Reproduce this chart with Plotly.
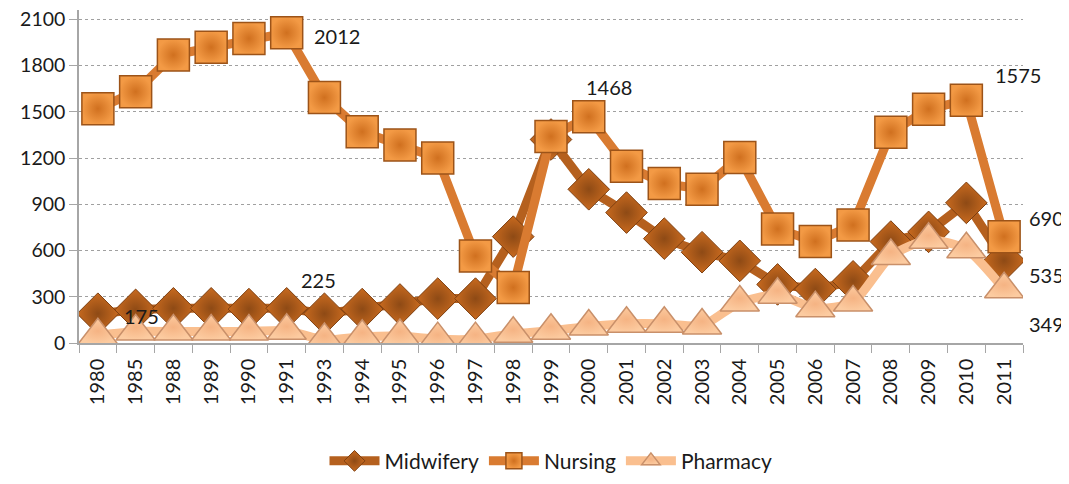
import plotly.graph_objects as go

years = ["1980", "1985", "1988", "1989", "1990", "1991", "1993", "1994", "1995", "1996",
         "1997", "1998", "1999", "2000", "2001", "2002", "2003", "2004", "2005", "2006",
         "2007", "2008", "2009", "2010", "2011"]
midwifery = [190, 215, 225, 225, 220, 225, 190, 220, 250, 288, 288, 690, 1320, 997, 846,
             677, 589, 533, 380, 350, 400, 658, 721, 909, 535]
nursing = [1520, 1630, 1868, 1918, 1975, 2012, 1592, 1370, 1285, 1200, 564, 360, 1340,
           1468, 1147, 1035, 997, 1204, 740, 658, 765, 1367, 1517, 1575, 690]
pharmacy = [50, 75, 75, 75, 75, 80, 20, 40, 45, 25, 25, 60, 80, 107, 125, 125, 113, 263,
            313, 225, 263, 564, 670, 608, 349]

# value labels: (text, category, value, xshift, yshift)
labels = [("2012", "1991", 2012, 50, -3), ("1468", "2000", 1468, 20, 30),
          ("1575", "2010", 1575, 52, 25), ("690", "2011", 690, 42, 19),
          ("535", "2011", 535, 42, -14), ("349", "2011", 349, 42, -35),
          ("225", "1991", 225, 32, 28), ("175", "1985", 175, 6, 0)]

FONT = "Lato"
TXT = "#1a1a1a"
fig = go.Figure()
fig.add_trace(go.Scatter(
    x=years, y=midwifery, name="Midwifery", mode="lines+markers",
    line=dict(color="#B5601E", width=9),
    marker=dict(symbol="diamond", size=32, color="#C86A1F",
                line=dict(color="#7E3F10", width=1),
                gradient=dict(type="radial", color="#8E4A15"))))
fig.add_trace(go.Scatter(
    x=years, y=nursing, name="Nursing", mode="lines+markers",
    line=dict(color="#D97B31", width=9),
    marker=dict(symbol="square", size=32, color="#F39A45",
                line=dict(color="#9C5318", width=1.5),
                gradient=dict(type="radial", color="#D0701F"))))
fig.add_trace(go.Scatter(
    x=years, y=pharmacy, name="Pharmacy", mode="lines+markers",
    line=dict(color="#FABF8F", width=9, shape="spline", smoothing=0.6),
    marker=dict(symbol="triangle-up", size=34, color="#FCCBA0",
                line=dict(color="#C9906A", width=1.5),
                gradient=dict(type="radial", color="#F5B383"))))

for t, cx, v, xs, ys in labels:
    fig.add_annotation(x=years.index(cx), y=v, xref="x", yref="y", text=t,
                       showarrow=False, xshift=xs, yshift=ys,
                       font=dict(family=FONT, size=20, color=TXT))

# page body has an 8px default margin; size/margins compensate for it
fig.update_layout(
    width=1061, height=476,
    margin=dict(l=71, r=46, t=2, b=129),
    paper_bgcolor="white", plot_bgcolor="white",
    font=dict(family=FONT, size=20, color=TXT),
    showlegend=True,
    legend=dict(orientation="h", x=0.5, xanchor="center", y=-0.355, yanchor="middle",
                font=dict(family=FONT, size=21, color=TXT),
                itemwidth=50, tracegroupgap=0),
    xaxis=dict(type="category", showgrid=False, showline=True, linecolor="#A6A6A6",
               linewidth=1.5, ticks="outside", tickson="boundaries", ticklen=8,
               tickcolor="#A6A6A6", tickangle=-90, range=[-0.5, 24.5], automargin=False,
               ticklabelstandoff=6,
               tickfont=dict(family=FONT, size=20, color=TXT)),
    yaxis=dict(range=[0, 2160], tickvals=[0, 300, 600, 900, 1200, 1500, 1800, 2100],
               showgrid=True, gridcolor="#A0A0A0", griddash="dot", gridwidth=1,
               showline=True, linecolor="#A6A6A6", linewidth=1.5, automargin=False,
               ticks="outside", ticklen=8, tickcolor="#A6A6A6", zeroline=False,
               ticklabeloverflow="allow",
               tickfont=dict(family=FONT, size=19.5, color=TXT)),
)
fig.write_html("out.html")
